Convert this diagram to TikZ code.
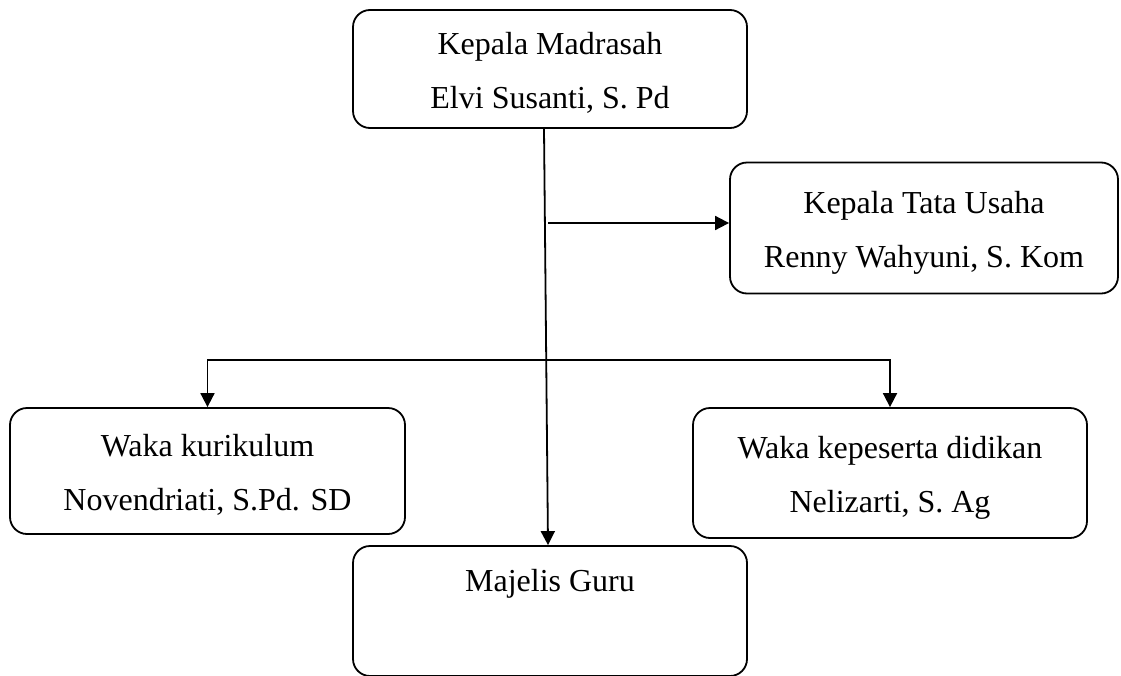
\documentclass[tikz,border=0pt]{standalone}
\usepackage{fontspec}
\setmainfont{Liberation Serif}
\usepackage{tikz}
\usetikzlibrary{arrows.meta, positioning}

\begin{document}
\begin{tikzpicture}[x=1pt, y=-1pt,
    box/.style={draw, line width=1.8pt, rounded corners=17pt, align=center,
        font=\fontsize{32}{54}\selectfont, inner sep=0pt},
    twoline/.style={box, text height=85pt, text depth=7pt},
    link/.style={line width=1.8pt},
    arr/.style={link, -{Triangle[length=14pt, width=14pt]}}]
    \useasboundingbox (0,0) rectangle (1121,675);

    % Top level
    \node[twoline, minimum width=394pt, minimum height=118pt] (madrasah) at (550,69)
        {Kepala Madrasah\\Elvi Susanti, S. Pd};
    \node[twoline, minimum width=388pt, minimum height=131pt] (tu) at (924,228)
        {Kepala Tata Usaha\\Renny Wahyuni, S. Kom};

    % Wakil kepala
    \node[twoline, minimum width=395pt, minimum height=126pt] (kurikulum) at (207.5,471)
        {Waka kurikulum\\Novendriati, S.Pd. SD};
    \node[twoline, minimum width=394pt, minimum height=130pt] (kesiswaan) at (890,473)
        {Waka kepeserta didikan\\Nelizarti, S. Ag};

    % Guru
    \node[box, minimum width=394pt, minimum height=130pt, text depth=62pt] (guru) at (550,611)
        {Majelis Guru};

    % Garis komando
    \coordinate (tuin) at (548,223);
    \coordinate (split) at (546,360);
    \draw[arr] ([xshift=-6pt]madrasah.south) -- ([xshift=-2pt]guru.north);
    \draw[arr] (tuin) -- (tuin -| tu.west);
    \draw[arr] (split) -- (split -| kurikulum.north) -- (kurikulum.north);
    \draw[arr] (split) -- (split -| kesiswaan.north) -- (kesiswaan.north);
\end{tikzpicture}
\end{document}
